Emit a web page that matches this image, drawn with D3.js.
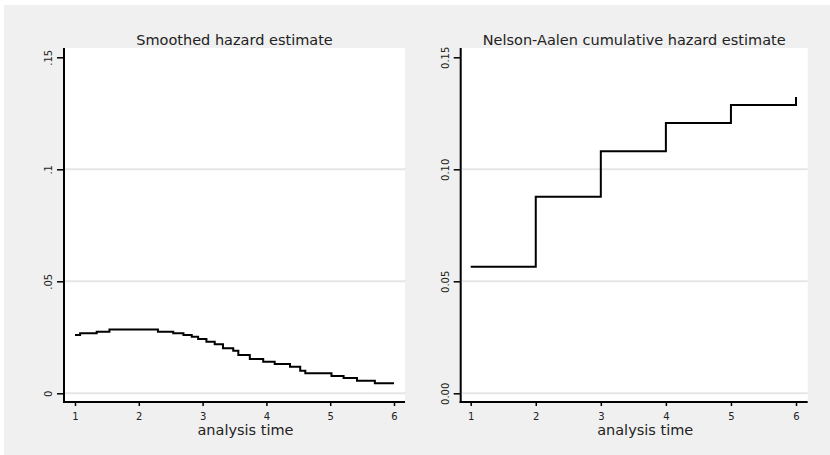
<!DOCTYPE html>
<html><head><meta charset="utf-8">
<script src="https://cdn.jsdelivr.net/npm/d3@7"></script>
<style>body{margin:0;background:#fff}svg{display:block}text{font-family:"DejaVu Sans",sans-serif;fill:#222}</style>
</head><body>
<svg id="c" width="830" height="455"></svg>
<script>
// Smoothed hazard (step levels as rendered)
const hazTime = [1.00,1.08,1.34,1.54,2.30,2.54,2.70,2.83,2.93,3.06,3.19,3.32,3.48,3.56,3.74,3.95,4.13,4.37,4.53,4.61,5.02,5.21,5.42,5.70,6.00];
const hazValue = [.0260,.0268,.0275,.0285,.0275,.0268,.0260,.0252,.0242,.0230,.0219,.0201,.0190,.0171,.0153,.0141,.0131,.0119,.0101,.0089,.0077,.0068,.0056,.0045,.0045];
// Nelson-Aalen cumulative hazard
const naTime = [1,2,3,4,5,6,6];
const naValue = [0.0565,0.0877,0.1081,0.1207,0.1287,0.1287,0.1323];
const xTicks = [1,2,3,4,5,6];
const yTicks = [0,0.05,0.1,0.15];
const yLabelsLeft = ["0",".05",".1",".15"];
const yLabelsRight = ["0.00","0.05","0.10","0.15"];
const titles = ["Smoothed hazard estimate","Nelson-Aalen cumulative hazard estimate"];
const xTitle = "analysis time";

(function(){
const svg = d3.select("#c");
svg.append("rect").attr("x",4).attr("y",5).attr("width",826).attr("height",450).attr("fill","#f0f0f0");

const panels = [
  {left:64, right:405, x0:75, x1:394, time:hazTime, value:hazValue, labels:yLabelsLeft, title:titles[0]},
  {left:460.7, right:807.7, x0:470.7, x1:796, time:naTime, value:naValue, labels:yLabelsRight, title:titles[1]}
];
const pTop=48, pBottom=402;

panels.forEach(p=>{
  const g = svg.append("g");
  g.append("rect").attr("x",p.left).attr("y",pTop).attr("width",p.right-p.left).attr("height",pBottom-pTop).attr("fill","#fff");
  const x = d3.scaleLinear().domain([1,6]).range([p.x0,p.x1]);
  const y = d3.scaleLinear().domain([0,0.15]).range([393.3,57.3]);
  // gridlines
  g.selectAll(".grid").data(yTicks.filter(t=>t<0.15)).enter().append("line")
    .attr("x1",p.left+1).attr("x2",p.right).attr("y1",d=>y(d)).attr("y2",d=>y(d))
    .attr("stroke","#e6e6e6").attr("stroke-width",2);
  // y axis
  const ya = d3.axisLeft(y).tickValues(yTicks).tickSize(7).tickFormat((d,i)=>p.labels[i]);
  const yg = g.append("g").attr("transform",`translate(${p.left},0)`).call(ya);
  yg.select(".domain").remove();
  yg.selectAll(".tick line").attr("stroke","#000").attr("stroke-width",1.5);
  yg.selectAll(".tick text").attr("font-size",10).attr("fill","#222")
    .attr("x",null).attr("dy",null).attr("y",null).attr("text-anchor","middle")
    .attr("transform","translate(-12,0) rotate(-90)");
  // x axis
  const xa = d3.axisBottom(x).tickValues(xTicks).tickSize(4).tickPadding(6.5).tickFormat(d3.format("d"));
  const xg = g.append("g").attr("transform",`translate(0,${pBottom})`).call(xa);
  xg.select(".domain").remove();
  xg.selectAll(".tick line").attr("stroke","#000").attr("stroke-width",1.5);
  xg.selectAll(".tick text").attr("font-size",10).attr("fill","#222");
  // axis lines
  g.append("line").attr("x1",p.left).attr("x2",p.left).attr("y1",pTop).attr("y2",pBottom+1).attr("stroke","#000").attr("stroke-width",2);
  g.append("line").attr("x1",p.left-1).attr("x2",p.right).attr("y1",pBottom).attr("y2",pBottom).attr("stroke","#000").attr("stroke-width",2);
  // curve
  const pts = p.time.map((t,i)=>[t,p.value[i]]);
  g.append("path").datum(pts).attr("fill","none").attr("stroke","#000").attr("stroke-width",2)
    .attr("d",d3.line().x(d=>x(d[0])).y(d=>y(d[1])).curve(d3.curveStepAfter));
  // titles
  g.append("text").attr("x",(p.left+p.right)/2).attr("y",45).attr("text-anchor","middle").attr("font-size",14.5).text(p.title);
  g.append("text").attr("x",(p.left+p.right)/2+11).attr("y",434.5).attr("text-anchor","middle").attr("font-size",14.5).text(xTitle);
});
})();
</script>
</body></html>
